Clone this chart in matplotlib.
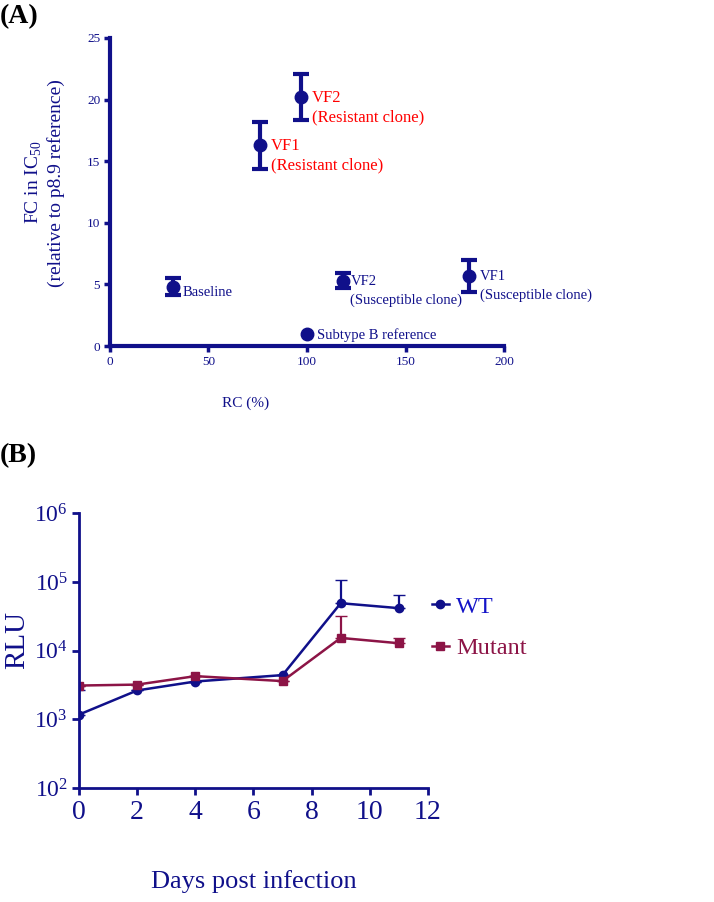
import numpy as np
import matplotlib.pyplot as plt
from matplotlib.lines import Line2D

plt.rcParams['font.family'] = ['Liberation Serif', 'DejaVu Serif']
plt.rcParams['mathtext.fontset'] = 'custom'
plt.rcParams['mathtext.rm'] = 'Liberation Serif'

navy = '#10108a'
maroon = '#8c1446'

# Panel A data
labels_a = ['Baseline', 'VF1\n(Resistant clone)', 'VF2\n(Resistant clone)',
            'VF2\n(Susceptible clone)', 'VF1\n(Susceptible clone)']
rc = [32, 76, 97, 118.5, 182]
fc = [4.8, 16.3, 20.2, 5.3, 5.7]
fc_err = [0.7, 1.9, 1.9, 0.6, 1.3]
red_label = [False, True, True, False, False]
ref_label = 'Subtype B reference'
ref_rc = 100
ref_fc = 1.0

# Panel B data
days = [0, 2, 4, 7, 9, 11]
wt = [1170, 2630, 3550, 4400, 49000, 41500]
wt_err = [1460, 0, 0, 0, 58000, 23500]
mut = [3100, 3200, 4250, 3600, 15300, 12800]
mut_err = [0, 0, 0, 0, 16200, 2500]

fig = plt.figure(figsize=(7.14, 9.02), dpi=100)

# ---- (A)
ax = fig.add_axes([0.154, 0.6164, 0.552, 0.3416])
ax.errorbar(rc, fc, yerr=fc_err, fmt='o', color=navy, ms=9, elinewidth=3,
            capsize=5.5, capthick=3, zorder=3)
ax.plot([ref_rc], [ref_fc], 'o', color=navy, ms=9, zorder=3)
offs = [(7, 0), (8, 0), (8, 0), (5, 0), (8, 0)]
for x, y, t, r, o in zip(rc, fc, labels_a, red_label, offs):
    if t == 'Baseline':
        ax.annotate(t, (x, y), xytext=(7, -4), textcoords='offset points',
                    va='center', ha='left', color=navy, fontsize=10.5)
        continue
    if r:
        ax.annotate(t, (x, y), xytext=(o[0], 5), textcoords='offset points',
                    va='top', ha='left', color='red', fontsize=12, linespacing=1.25)
    else:
        ax.annotate(t, (x, y), xytext=(o[0], 4), textcoords='offset points',
                    va='top', ha='left', color=navy, fontsize=10.5, linespacing=1.5)
ax.annotate(ref_label, (ref_rc, ref_fc), xytext=(7, -1), textcoords='offset points',
            va='center', ha='left', color=navy, fontsize=10.5)
ax.set_xlim(0, 200)
ax.set_ylim(0, 25)
ax.set_xticks([0, 50, 100, 150, 200])
ax.set_yticks([0, 5, 10, 15, 20, 25])
for s in ['top', 'right']:
    ax.spines[s].set_visible(False)
for s in ['left', 'bottom']:
    ax.spines[s].set_color(navy)
    ax.spines[s].set_linewidth(3)
ax.tick_params(colors=navy, labelsize=9.5, width=2.5, length=4, pad=3)
ax.set_xlabel('RC (%)', color=navy, fontsize=11)
ax.xaxis.set_label_coords(0.345, -0.165)
ax.set_ylabel('FC in IC$_{50}$\n(relative to p8.9 reference)', color=navy,
              fontsize=14, linespacing=1.25)
ax.yaxis.set_label_coords(-0.114, 0.53)
fig.text(0.0, 0.996, '(A)', fontsize=20, fontweight='bold', va='top')

# ---- (B)
bx = fig.add_axes([0.1106, 0.1264, 0.4888, 0.3046])
bx.errorbar(days, wt, yerr=[np.zeros(len(wt)), wt_err], fmt='-o', color=navy,
            ms=6, lw=1.8, capsize=4, elinewidth=1.6)
bx.errorbar(days, mut, yerr=[np.zeros(len(mut)), mut_err], fmt='-s', color=maroon,
            ms=5.5, lw=1.8, capsize=4, elinewidth=1.6)
bx.set_yscale('log')
bx.set_ylim(1e2, 1e6)
bx.set_xlim(0, 12)
bx.set_xticks([0, 2, 4, 6, 8, 10, 12])
bx.minorticks_off()
for s in ['top', 'right']:
    bx.spines[s].set_visible(False)
for s in ['left', 'bottom']:
    bx.spines[s].set_color(navy)
    bx.spines[s].set_linewidth(2)
bx.tick_params(colors=navy, width=2, length=5, pad=4)
bx.tick_params(axis='x', labelsize=20)
bx.tick_params(axis='y', labelsize=17, pad=3)
bx.set_xlabel('Days post infection', color=navy, fontsize=19)
bx.xaxis.set_label_coords(0.5, -0.30)
bx.set_ylabel('RLU', color=navy, fontsize=21)
bx.yaxis.set_label_coords(-0.14, 0.54)
handles = [Line2D([], [], color=navy, marker='o', ms=6, lw=1.8),
           Line2D([], [], color=maroon, marker='s', ms=5.5, lw=1.8)]
leg = bx.legend(handles, ['WT', 'Mutant'], loc='upper left',
                bbox_to_anchor=(1.011, 0.70), frameon=False, fontsize=17.5,
                handlelength=0.7, handletextpad=0.3, labelspacing=0.8,
                borderaxespad=0, borderpad=0)
leg.get_texts()[0].set_color('#1414c8')
leg.get_texts()[1].set_color(maroon)
fig.text(0.0, 0.509, '(B)', fontsize=20, fontweight='bold', va='top')

fig.savefig('out.png', dpi=100)
